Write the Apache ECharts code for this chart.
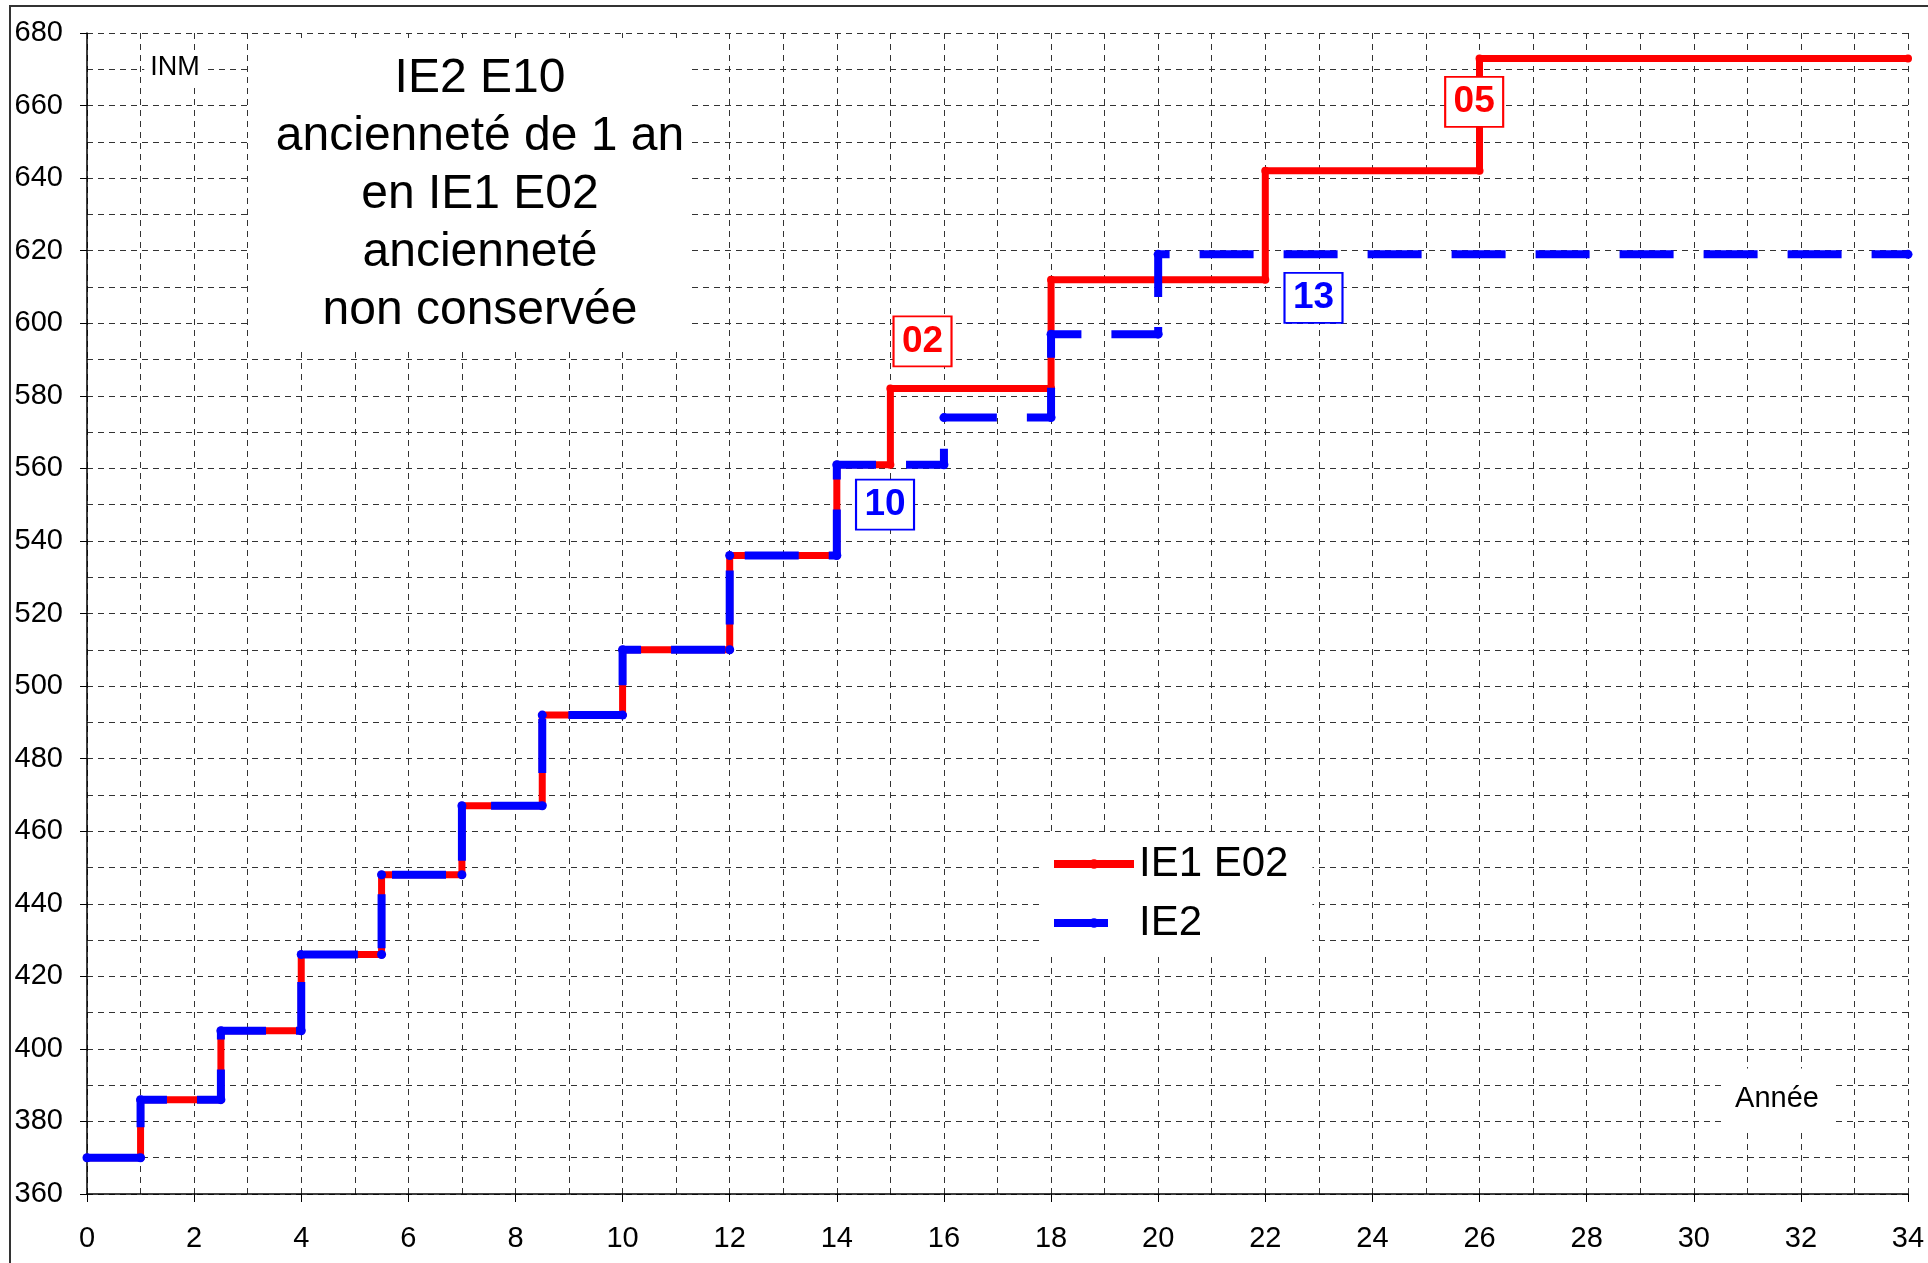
<!DOCTYPE html>
<html>
<head>
<meta charset="utf-8">
<script src="https://cdn.jsdelivr.net/npm/echarts@6/dist/echarts.min.js"></script>
<style>
  html, body { margin: 0; padding: 0; background: #fff; }
  #chart { width: 1928px; height: 1263px; }
</style>
</head>
<body>
<div id="chart"></div>
<script>
// IE1 E02 : années de changement d'échelon et INM
const ie1Years = [0, 1, 2.5, 4, 5.5, 7, 8.5, 10, 12, 14, 15, 18, 22, 26]
const ie1Inm = [370, 386, 405, 426, 448, 467, 492, 510, 536, 561, 582, 612, 642, 673]
// IE2
const ie2Years = [0, 1, 2.5, 4, 5.5, 7, 8.5, 10, 12, 14, 16, 18, 20]
const ie2Inm = [370, 386, 405, 426, 448, 467, 492, 510, 536, 561, 574, 597, 619]
const lastYear = 34

// étiquettes d'échelon [année, INM, texte]
const ie1Notes = [[15.6, 595, '02'], [25.9, 661, '05']]
const ie2Notes = [[14.9, 550, '10'], [22.9, 607, '13']]

const titleLines = ['IE2 E10', 'ancienneté de 1 an', 'en IE1 E02', 'ancienneté', 'non conservée']

// construit les sommets de la courbe en escalier
const stepPoints = (years, values) => {
  const pts = []
  years.forEach((y, i) => {
    if (i > 0) pts.push([y, values[i - 1]])
    pts.push([y, values[i]])
  })
  pts.push([lastYear, values[values.length - 1]])
  return pts
}

const FONT = '"Liberation Sans", Arial, sans-serif'
const gridLine = { color: '#333', width: 1, type: [6, 5] }

// boîte blanche encadrée + numéro d'échelon
const noteSeries = (name, data, color) => ({
  name: name,
  type: 'scatter',
  z: 5,
  symbol: 'rect',
  symbolSize: [58, 50],
  itemStyle: { color: '#fff', borderColor: color, borderWidth: 2, opacity: 1 },
  emphasis: { disabled: true },
  data: data,
  label: {
    show: true,
    position: 'inside',
    formatter: (p) => p.value[2],
    color: color,
    fontFamily: FONT,
    fontSize: 37,
    fontWeight: 'bold',
  },
})

const myChart = echarts.init(document.getElementById('chart'))

const option = {
  animation: false,
  backgroundColor: '#fff',
  grid: { left: 87, right: 20, top: 33, bottom: 69 },
  xAxis: {
    type: 'value',
    min: 0,
    max: 34,
    interval: 2,
    axisLine: { show: true, onZero: false, lineStyle: { color: '#000', width: 1.5 } },
    axisTick: { show: true, length: 8, lineStyle: { color: '#000' } },
    minorTick: { show: false, splitNumber: 2 },
    axisLabel: { color: '#000', fontFamily: FONT, fontSize: 29, margin: 30 },
    splitLine: { show: true, lineStyle: gridLine },
    minorSplitLine: { show: true, lineStyle: gridLine },
  },
  yAxis: {
    type: 'value',
    min: 360,
    max: 680,
    interval: 20,
    axisLine: { show: true, lineStyle: { color: '#000', width: 1.5 } },
    axisTick: { show: true, length: 7, lineStyle: { color: '#000' } },
    minorTick: { show: false, splitNumber: 2 },
    axisLabel: { color: '#000', fontFamily: FONT, fontSize: 29, margin: 24 },
    splitLine: { show: true, lineStyle: gridLine },
    minorSplitLine: { show: true, lineStyle: gridLine },
  },
  legend: {
    data: ['IE1 E02', 'IE2'],
    orient: 'vertical',
    left: 1040,
    top: 836,
    padding: [4, 24, 5, 10],
    backgroundColor: '#fff',
    itemWidth: 80,
    itemHeight: 12,
    itemGap: 11,
    lineStyle: { width: 8 },
    textStyle: { color: '#000', fontFamily: FONT, fontSize: 42, lineHeight: 48 },
  },
  graphic: [
    {
      type: 'rect',
      silent: true,
      z: 100,
      shape: { x: 10, y: 6, width: 1940, height: 1300 },
      style: { fill: 'none', stroke: '#333', lineWidth: 2 },
    },
    {
      type: 'rect',
      silent: true,
      z: 50,
      shape: { x: 252, y: 38, width: 439, height: 314 },
      style: { fill: '#fff' },
    },
    {
      type: 'text',
      silent: true,
      z: 51,
      x: 480,
      y: 50,
      style: {
        text: titleLines.join('\n'),
        font: '48px ' + FONT,
        lineHeight: 58,
        fill: '#000',
        textAlign: 'center',
        textVerticalAlign: 'top',
      },
    },
    {
      type: 'text',
      silent: true,
      z: 51,
      x: 175,
      y: 68,
      style: {
        text: 'INM',
        font: '27px ' + FONT,
        fill: '#000',
        textAlign: 'center',
        textVerticalAlign: 'middle',
        backgroundColor: '#fff',
        padding: [4, 6],
      },
    },
    {
      type: 'text',
      silent: true,
      z: 51,
      x: 1777,
      y: 1099,
      style: {
        text: 'Année',
        font: '29px ' + FONT,
        fill: '#000',
        textAlign: 'center',
        textVerticalAlign: 'middle',
        backgroundColor: '#fff',
        padding: [16, 14],
      },
    },
  ],
  series: [
    {
      name: 'IE1 E02',
      type: 'line',
      z: 3,
      data: stepPoints(ie1Years, ie1Inm),
      symbol: 'circle',
      symbolSize: 8,
      showAllSymbol: true,
      color: '#ff0000',
      lineStyle: { color: '#ff0000', width: 7 },
      itemStyle: { color: '#ff0000' },
    },
    {
      name: 'IE2',
      type: 'line',
      z: 4,
      data: stepPoints(ie2Years, ie2Inm),
      symbol: 'circle',
      symbolSize: 9,
      showAllSymbol: true,
      color: '#0000ff',
      lineStyle: { color: '#0000ff', width: 8, type: [54, 30] },
      itemStyle: { color: '#0000ff' },
    },
    noteSeries('notes IE1', ie1Notes, '#ff0000'),
    noteSeries('notes IE2', ie2Notes, '#0000ff'),
  ],
}

myChart.setOption(option)
</script>
</body>
</html>
